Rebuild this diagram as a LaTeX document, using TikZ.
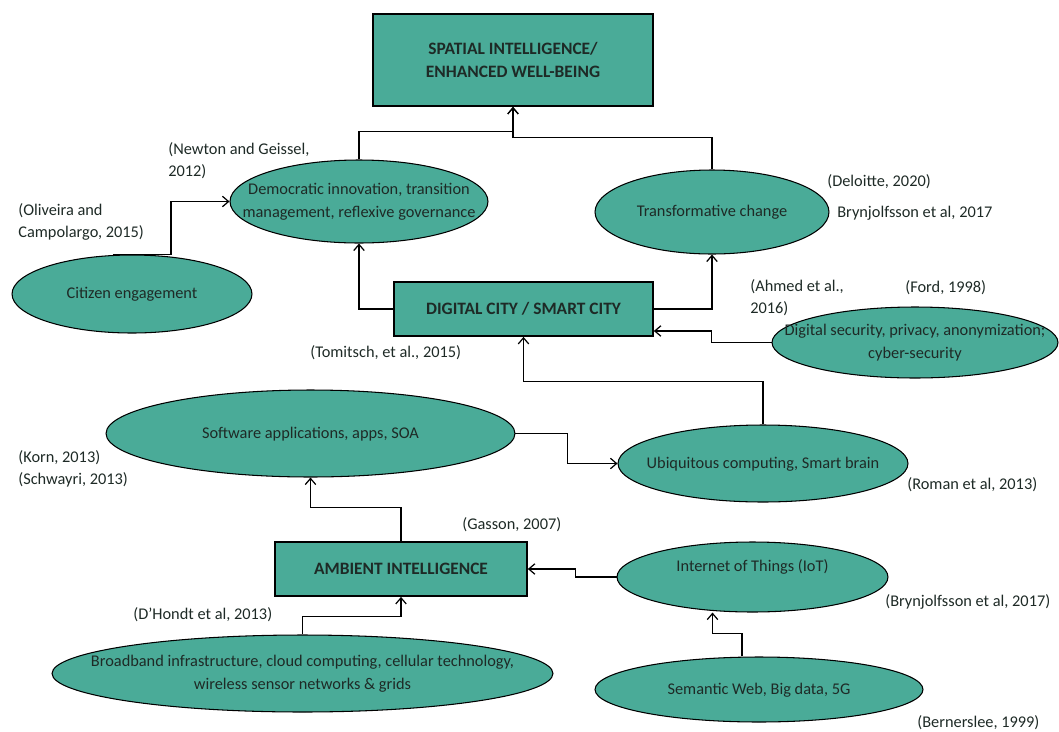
\documentclass[tikz,border=0pt]{standalone}
\usepackage{fontspec}
\setmainfont{Carlito}
\usepackage[HTML]{xcolor}
\usetikzlibrary{positioning, arrows.meta, shapes.geometric}
\definecolor{sea}{HTML}{4AAB98}
\definecolor{ink}{HTML}{1E2A26}
% text of an oval, kept out of the oval's size
\newcommand{\ovaltext}[1]{\makebox[0pt]{\begin{tabular}{@{}c@{}}#1\end{tabular}}}

\begin{document}
\begin{tikzpicture}[x=0.02cm, y=-0.02cm,
  >={Straight Barb[length=3.5pt,width=6pt]},
  box/.style={draw, line width=1pt, fill=sea, text=ink, align=center, inner sep=0pt,
    font=\fontsize{9.9}{13.5}\selectfont\bfseries},
  oval/.style={ellipse, draw, line width=0.6pt, fill=sea, text=ink, inner sep=0pt,
    font=\fontsize{9.3}{13}\selectfont},
  cite/.style={anchor=west, inner sep=0pt, align=left, text=ink,
    font=\fontsize{9.3}{12.5}\selectfont},
  link/.style={->, line width=0.7pt}]
\useasboundingbox (0,0) rectangle (1059,731);

% boxes
\node[box, minimum width=5.6cm, minimum height=1.84cm] (top) at (513,60)
  {SPATIAL INTELLIGENCE/\\ENHANCED WELL-BEING};
\node[box, minimum width=5.18cm, minimum height=1.08cm] (city) at (523.5,309)
  {DIGITAL CITY / SMART CITY};
\node[box, minimum width=5.04cm, minimum height=1.08cm] (amb) at (401,569)
  {AMBIENT INTELLIGENCE};

% ovals
\node[oval, minimum width=5.16cm, minimum height=1.66cm] (dem) at (359,201.5)
  {\ovaltext{Democratic innovation, transition\\management, reflexive governance}};
\node[oval, minimum width=4.68cm, minimum height=1.68cm] (trans) at (712,212)
  {\ovaltext{Transformative change}};
\node[oval, minimum width=4.8cm, minimum height=1.56cm] (cit) at (132,294)
  {\ovaltext{Citizen engagement}};
\node[oval, minimum width=5.72cm, minimum height=1.42cm] (sec) at (915,342.5)
  {\ovaltext{Digital security, privacy, anonymization;\\cyber-security}};
\node[oval, minimum width=8.18cm, minimum height=1.74cm] (soft) at (310.5,433.5)
  {\ovaltext{Software applications, apps, SOA}};
\node[oval, minimum width=5.8cm, minimum height=1.54cm] (ubiq) at (763,463.5)
  {\ovaltext{Ubiquitous computing, Smart brain}};
\node[oval, minimum width=5.42cm, minimum height=1.4cm] (iot) at (752.5,577)
  {\raisebox{0.12cm}[0pt][0pt]{\ovaltext{Internet of Things (IoT)}}};
\node[oval, minimum width=10.02cm, minimum height=1.54cm] (broad) at (302.5,673.5)
  {\ovaltext{Broadband infrastructure, cloud computing, cellular technology,\\wireless sensor networks \& grids}};
\node[oval, minimum width=6.56cm, minimum height=1.3cm] (sem) at (759,689.5)
  {\ovaltext{Semantic Web, Big data, 5G}};

% references
\node[cite] (newton) at (168,161) {(Newton and Geissel,\\2012)};
\node[cite] (oliveira) at (18,221.5) {(Oliveira and\\Campolargo, 2015)};
\node[cite] (deloitte) at (827,182) {(Deloitte, 2020)};
\node[cite] (brynA) at (837,213) {Brynjolfsson et al, 2017};
\node[cite] (ahmed) at (750,297.5) {(Ahmed et al.,\\2016)};
\node[cite] (ford) at (905,288) {(Ford, 1998)};
\node[cite] (tomitsch) at (310,353) {(Tomitsch, et al., 2015)};
\node[cite] (korn) at (18,468.5) {(Korn, 2013)\\(Schwayri, 2013)};
\node[cite] (roman) at (907,485) {(Roman et al, 2013)};
\node[cite] (gasson) at (462,525) {(Gasson, 2007)};
\node[cite] (dhondt) at (133,615) {(D’Hondt et al, 2013)};
\node[cite] (brynB) at (885,602) {(Brynjolfsson et al, 2017)};
\node[cite] (berners) at (917,723) {(Bernerslee, 1999)};

% connectors
\draw[link] (dem.north) -- ++(0,-28) -| (top.south);
\draw[link] (trans.north) -- ++(0,-32) -| (top.south);
\draw[link] ([xshift=-0.38cm]cit.north) -- ++(58,0) |- (dem.west);
\draw[link] (city.west) -| (dem.south);
\draw[link] (city.east) -| (trans.south);
\draw[link] (sec.west) -- ++(-60,0) |- ([yshift=-0.44cm]city.east);
\draw[link] (ubiq.north) -- ++(0,-43) -| (city.south);
\draw[link] (soft.east) -- ++(52,0) |- (ubiq.west);
\draw[link] (amb.north) -- ++(0,-34) -| (soft.south);
\draw[link] (broad.north) -- ++(0,-18) -| (amb.south);
\draw[link] (iot.west) -- ++(-41,0) |- (amb.east);
\draw[link] ([xshift=-0.34cm]sem.north) -- ++(0,-23) -| ([xshift=-0.8cm]iot.south);
\end{tikzpicture}
\end{document}
